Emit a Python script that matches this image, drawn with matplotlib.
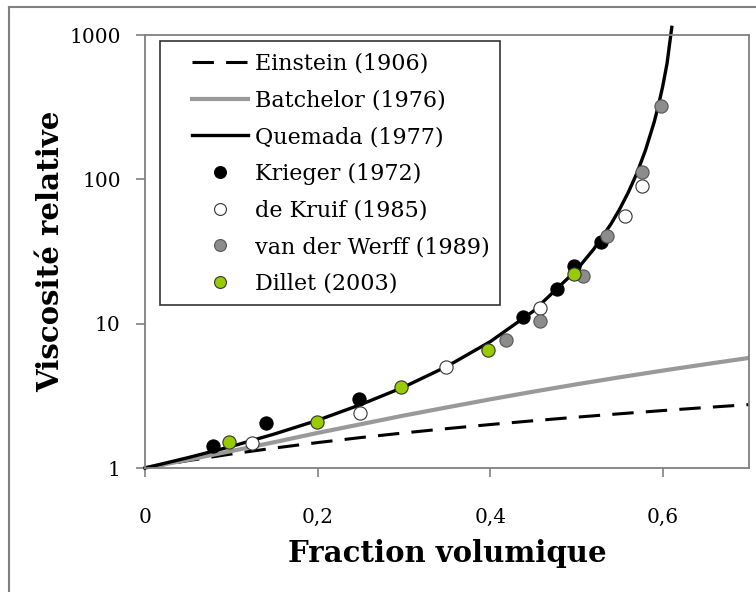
import matplotlib
matplotlib.use('Agg')
import matplotlib.pyplot as plt
from matplotlib.lines import Line2D
from matplotlib.patches import Rectangle

# courbes theoriques
phi_ein = [0, 0.05, 0.1, 0.15, 0.2, 0.25, 0.3, 0.35, 0.4, 0.45, 0.5, 0.55, 0.6, 0.65, 0.7]
eta_ein = [1, 1.125, 1.25, 1.375, 1.5, 1.625, 1.75, 1.875, 2.0, 2.125, 2.25, 2.375, 2.5, 2.625, 2.75]

phi_bat = [0, 0.05, 0.1, 0.15, 0.2, 0.25, 0.3, 0.35, 0.4, 0.45, 0.5, 0.55, 0.6, 0.65, 0.7]
eta_bat = [1, 1.14, 1.31, 1.51, 1.75, 2.01, 2.31, 2.63, 2.99, 3.38, 3.80, 4.25, 4.73, 5.24, 5.79]

phi_que = [0, 0.05, 0.1, 0.15, 0.2, 0.25, 0.3, 0.35, 0.4, 0.45, 0.5, 0.52, 0.54,
           0.55, 0.56, 0.57, 0.58, 0.59, 0.595, 0.6, 0.605, 0.6105]
eta_que = [1, 1.18, 1.41, 1.72, 2.14, 2.75, 3.64, 5.06, 7.5, 12.2, 23.5, 32.8, 49,
           62, 81, 110, 159, 248, 324, 441, 634, 1130]

# donnees experimentales
phi_krieger = [0.079, 0.14, 0.248, 0.438, 0.477, 0.497, 0.528]
eta_krieger = [1.42, 2.05, 3.0, 11.2, 17.5, 25, 36.6]

phi_kruif = [0.124, 0.249, 0.349, 0.458, 0.556, 0.576]
eta_kruif = [1.49, 2.41, 5.03, 12.9, 56, 89.5]

phi_werff = [0.418, 0.458, 0.508, 0.536, 0.576, 0.598]
eta_werff = [7.7, 10.5, 21.5, 40.2, 113, 322]

phi_dillet = [0.097, 0.199, 0.297, 0.398, 0.497]
eta_dillet = [1.52, 2.09, 3.65, 6.6, 22.2]

plt.rcParams['font.family'] = 'DejaVu Serif'

fig = plt.figure(figsize=(7.56, 5.92), dpi=100)
ax = fig.add_axes([145/756, 1 - 468/592, 604/756, 433/592])

ax.plot(phi_ein, eta_ein, color='black', lw=2.2, ls=(0, (7, 4)), label='Einstein (1906)')
ax.plot(phi_bat, eta_bat, color='#999999', lw=3, label='Batchelor (1976)')
ax.plot(phi_que, eta_que, color='black', lw=2.4, label='Quemada (1977)', clip_on=False)

ms = 9.5
ax.plot(phi_krieger, eta_krieger, 'o', ms=ms, mfc='black', mec='black', mew=0.8,
        label='Krieger (1972)')
ax.plot(phi_kruif, eta_kruif, 'o', ms=ms, mfc='white', mec='#333333', mew=0.8,
        label='de Kruif (1985)')
ax.plot(phi_werff, eta_werff, 'o', ms=ms, mfc='#8c8c8c', mec='#555555', mew=0.8,
        label='van der Werff (1989)')
ax.plot(phi_dillet, eta_dillet, 'o', ms=ms, mfc='#99cc00', mec='#333333', mew=0.8,
        label='Dillet (2003)')

ax.set_yscale('log')
ax.set_xlim(0, 0.7)
ax.set_ylim(1, 1000)
ax.set_xticks([0, 0.2, 0.4, 0.6])
ax.set_xticklabels(['0', '0,2', '0,4', '0,6'])
ax.set_yticks([1, 10, 100, 1000])
ax.set_yticklabels(['1', '10', '100', '1000'])
ax.minorticks_off()
ax.tick_params(axis='both', direction='out', length=6.5, width=1.2, color='#808080',
               labelsize=14.5)
ax.tick_params(axis='x', pad=22)
ax.tick_params(axis='y', pad=11)
for s in ax.spines.values():
    s.set_color('#808080')
    s.set_linewidth(1.3)

ax.set_xlabel('Fraction volumique', fontsize=21, fontweight='bold', labelpad=9)
ax.set_ylabel('Viscosité relative', fontsize=21, fontweight='bold', labelpad=3)

# legende sans cadre + cadre dessine a part (marge gauche plus large)
leg = ax.legend(loc='upper left', bbox_to_anchor=(0.0778, 0.959), borderaxespad=0,
                fontsize=16, handlelength=2.5, handletextpad=0.32, labelspacing=0.66,
                frameon=False, borderpad=0, markerscale=0.9)
ax.add_patch(Rectangle((0.0248, 0.376), 0.563, 0.61, transform=ax.transAxes,
                       facecolor='white', edgecolor='#333333', lw=1.2, zorder=4.9))
leg.set_zorder(5)

# cadre exterieur (haut et gauche)
fig.add_artist(Line2D([9/756, 9/756], [0, 1 - 7/592], color='#808080', lw=1.5))
fig.add_artist(Line2D([9/756, 1], [1 - 7/592, 1 - 7/592], color='#808080', lw=1.5))

fig.savefig('out.png', dpi=100)
